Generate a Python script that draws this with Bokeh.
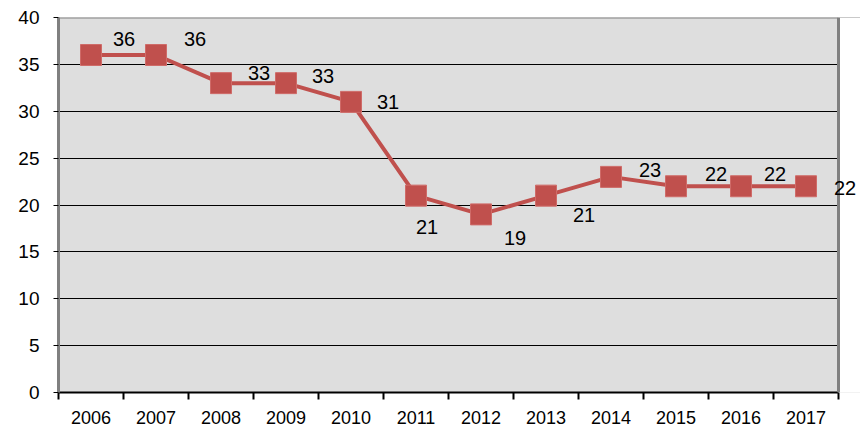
from bokeh.plotting import figure
from bokeh.models import ColumnDataSource, FixedTicker, Label, Span, Range1d, BoxAnnotation
from bokeh.embed import file_html
from bokeh.resources import INLINE

years = ["2006", "2007", "2008", "2009", "2010", "2011", "2012", "2013", "2014", "2015", "2016", "2017"]
values = [36, 36, 33, 33, 31, 21, 19, 21, 23, 22, 22, 22]
y_ticks = [0, 5, 10, 15, 20, 25, 30, 35, 40]

# label offsets in screen pixels (style only)
label_dx = [33, 39, 38, 37, 37, 11, 34, 38, 39, 40, 34, 39]
label_dy = [16, 16, 10, 7, 0, -31, -24, -19, 7, 12, 12, -2]

n = len(years)
xs = [i + 0.5 for i in range(n)]
src = ColumnDataSource(dict(x=xs, y=values))

# plot area: 780 px for the categories, frame extended to the page edge so
# the last data label is not clipped
W, H, LEFT, TOP, BOTTOM, AREA = 860, 434, 58, 17, 42, 780
x_end = n * (W - LEFT) / AREA

p = figure(width=W, height=H, output_backend="svg", toolbar_location=None,
           x_range=Range1d(0, x_end), y_range=Range1d(0, y_ticks[-1]),
           min_border_left=LEFT, min_border_right=0, min_border_top=TOP, min_border_bottom=BOTTOM)
p.background_fill_color = "#dedede"
p.border_fill_color = "white"
p.outline_line_color = None

p.xgrid.grid_line_color = None
p.ygrid.ticker = FixedTicker(ticks=y_ticks[1:-1])
p.ygrid.grid_line_color = "black"
p.ygrid.grid_line_width = 1

p.line("x", "y", source=src, line_color="#c0504d", line_width=4)
p.scatter("x", "y", source=src, marker="square", size=21, fill_color="#c0504d",
          line_color="#cf6b68", line_width=1)

# top border of plot area
p.add_layout(Span(location=y_ticks[-1], dimension="width", line_color="#808080", line_width=2))
# white area right of the plot area
p.add_layout(BoxAnnotation(left=n, fill_color="white", fill_alpha=1.0, line_color=None))
# right border of plot area
p.add_layout(Span(location=n, dimension="height", line_color="#808080", line_width=3))

for x, v, dx, dy in zip(xs, values, label_dx, label_dy):
    p.add_layout(Label(x=x, y=v, text=str(v), x_offset=dx, y_offset=dy,
                       text_align="center", text_baseline="middle",
                       text_font="Liberation Sans", text_font_size="20px",
                       text_color="black"))

# x axis
p.xaxis.bounds = (0, n)
p.xaxis.ticker = FixedTicker(ticks=xs, minor_ticks=list(range(n + 1)))
p.xaxis.major_label_overrides = {x: y for x, y in zip(xs, years)}
p.xaxis.major_tick_out = 0
p.xaxis.major_tick_in = 0
p.xaxis.minor_tick_out = 7
p.xaxis.minor_tick_in = 0
p.xaxis.minor_tick_line_color = "black"
p.xaxis.minor_tick_line_width = 2
p.xaxis.axis_line_color = "black"
p.xaxis.axis_line_width = 2
p.xaxis.major_label_text_font = "Liberation Sans"
p.xaxis.major_label_text_font_size = "18px"
p.xaxis.major_label_text_font_style = "normal"
p.xaxis.major_label_text_color = "black"
p.xaxis.major_label_standoff = 11

# y axis
p.yaxis.ticker = FixedTicker(ticks=y_ticks)
p.yaxis.minor_tick_line_color = None
p.yaxis.major_tick_out = 5
p.yaxis.major_tick_in = 0
p.yaxis.major_tick_line_color = "black"
p.yaxis.axis_line_color = "#808080"
p.yaxis.axis_line_width = 3
p.yaxis.major_label_text_font = "Liberation Sans"
p.yaxis.major_label_text_font_size = "19px"
p.yaxis.major_label_text_color = "black"
p.yaxis.major_label_standoff = 14

open("out.html", "w").write(file_html(p, INLINE))
